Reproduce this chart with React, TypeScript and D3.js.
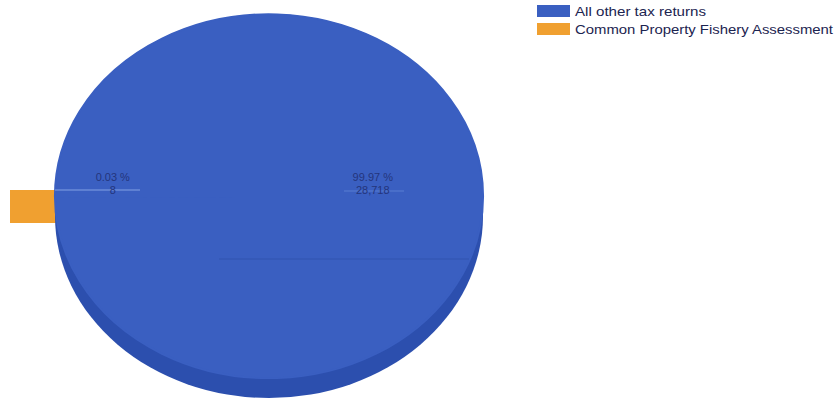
import React from "react";
import * as d3 from "d3";

const categories = ["All other tax returns", "Common Property Fishery Assessment"];
const values = [28718, 8];
const percentLabels = ["99.97 %", "0.03 %"];
const countLabels = ["28,718", "8"];
const colors = ["#3a5fc1", "#f0a030"];
const sideColors = ["#2c4fae", "#e09028"];

export default function App() {
  const W = 838, H = 402;
  const cx = 269, cy = 196, rx = 214, ry = 182, depth = 20, explode = 45, sliceThick = 33;
  const pie = d3.pie<number>().sort(null).startAngle(-Math.PI / 2 - 0.0005).endAngle((3 * Math.PI) / 2 - 0.0005);
  const arcs = pie(values);
  const arcGen = d3.arc<d3.PieArcDatum<number>>().innerRadius(0).outerRadius(1);

  return (
    <svg width={W} height={H} style={{ position: "absolute", left: 0, top: 0, background: "#fff" }}>
      {arcs.map((a, i) => {
        if (i === 0) return null;
        const mid = (a.startAngle + a.endAngle) / 2;
        const dx = Math.sin(mid) * explode;
        const x0 = cx + dx + Math.sin(mid) * rx;
        const x1 = cx + dx;
        return (
          <rect key={"s" + i} x={Math.min(x0, x1)} y={cy - 6} width={Math.abs(x1 - x0)} height={sliceThick} fill={colors[i]} />
        );
      })}
      <ellipse cx={cx} cy={cy + depth} rx={rx} ry={ry} fill={sideColors[0]} />
      <rect x={cx - rx} y={cy} width={2 * rx} height={depth} fill={sideColors[0]} />
      <ellipse cx={cx} cy={cy} rx={rx} ry={ry} fill={colors[0]} />
      <g transform={`translate(${cx},${cy}) scale(${rx},${ry})`}>
        {arcs.map((a, i) => (i === 0 ? (
          <path key={i} d={arcGen(a) || ""} fill={colors[i]} stroke={colors[i]} strokeWidth={0.01} />
        ) : null))}
      </g>
      <line x1={cx - rx} x2={cx - rx + 85} y1={cy - 6} y2={cy - 6} stroke="#9cb8f0" strokeWidth={1} opacity={0.75} />
      <line x1={cx + 75} x2={cx + 135} y1={cy - 5} y2={cy - 5} stroke="#6f92de" strokeWidth={1} opacity={0.6} />
      <line x1={cx - 50} x2={cx + 200} y1={cy + 63} y2={cy + 63} stroke="#2a4aa0" strokeWidth={1} opacity={0.5} />
      {arcs.map((a, i) => {
        const mid = (a.startAngle + a.endAngle) / 2;
        const f = i === 0 ? 0.485 : 0.73;
        const x = cx + Math.sin(mid) * rx * f;
        const y = cy - 15;
        return (
          <text key={"l" + i} x={x} y={y} textAnchor="middle" fontFamily="Liberation Sans, Arial, sans-serif" fontSize={11} fill="#24357c">
            <tspan x={x} dy={0}>{percentLabels[i]}</tspan>
            <tspan x={x} dy={13}>{countLabels[i]}</tspan>
          </text>
        );
      })}
      {categories.map((c, i) => (
        <g key={"g" + i} transform={`translate(537,${5 + i * 18})`}>
          <rect x={0} y={0} width={33} height={12} fill={colors[i]} />
          <text x={38} y={11} fontFamily="Liberation Sans, Arial, sans-serif" fontSize={13} fill="#1c2450"
            textLength={i === 0 ? 131 : 258} lengthAdjust="spacingAndGlyphs">{c}</text>
        </g>
      ))}
    </svg>
  );
}
